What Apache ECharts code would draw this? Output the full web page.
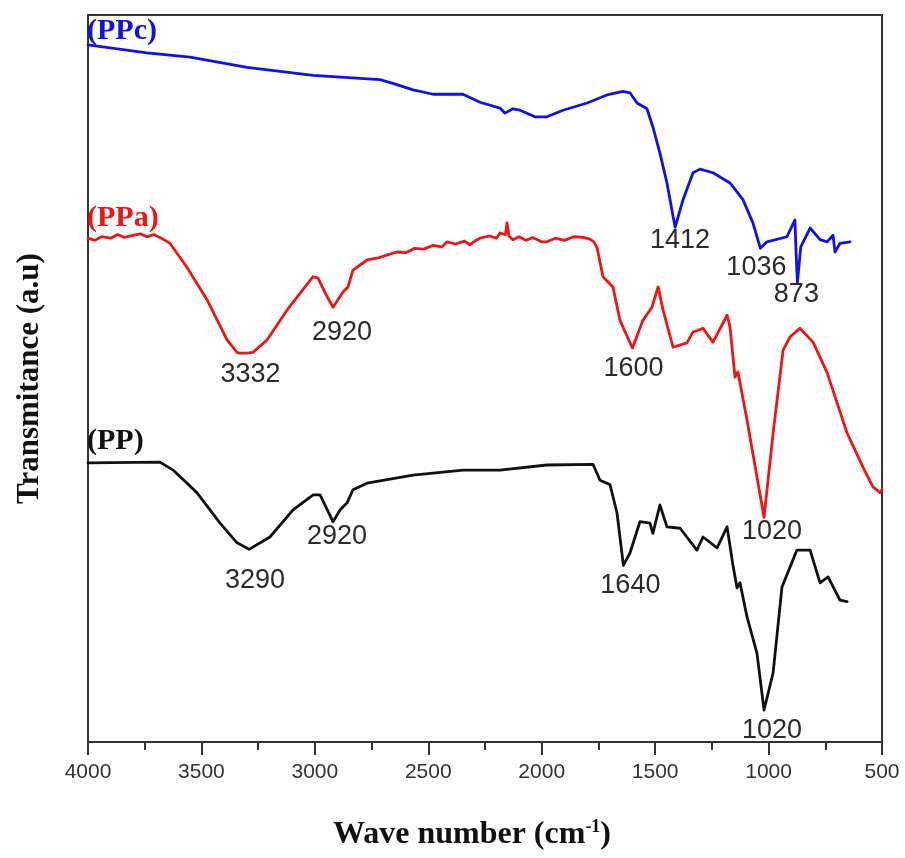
<!DOCTYPE html>
<html>
<head>
<meta charset="utf-8">
<title>FTIR spectra</title>
<script src="https://cdn.jsdelivr.net/npm/echarts@6/dist/echarts.min.js"></script>
<style>
  html, body { margin: 0; padding: 0; background: #ffffff; }
  #chart { width: 905px; height: 858px; }
</style>
</head>
<body>
<div id="chart"></div>
<script>
// FTIR spectra, [wavenumber (cm-1), transmittance (a.u.)], curves stacked with offsets
const ppcSpectrum = [
  [4000, 95.9], [3740, 94.8], [3550, 94.2], [3299, 92.8], [3008, 91.7], [2713, 91.1],
  [2656, 90.6], [2567, 89.7], [2479, 89.1], [2347, 89.1], [2272, 88.0], [2184, 87.2],
  [2162, 86.5], [2127, 87.1], [2096, 86.9], [2030, 86.0], [1977, 86.0], [1906, 86.9],
  [1800, 87.9], [1712, 89.0], [1642, 89.5], [1611, 89.3], [1580, 87.9], [1536, 87.1],
  [1510, 84.6], [1479, 81.0], [1448, 76.9], [1412, 70.8], [1377, 74.6], [1333, 78.3],
  [1302, 78.8], [1245, 78.3], [1170, 76.9], [1113, 74.6], [1069, 71.4], [1036, 67.9],
  [1007, 68.8], [919, 69.5], [884, 71.8], [878, 66.7], [873, 63.2], [858, 68.1],
  [817, 70.7], [773, 69.1], [742, 68.8], [716, 69.7], [707, 67.4], [685, 68.6], [641, 68.8]
];

const ppaSpectrum = [
  [4000, 69.3], [3970, 69.0], [3940, 69.5], [3900, 69.3], [3870, 69.8], [3840, 69.4],
  [3802, 69.7], [3770, 69.9], [3740, 69.5], [3710, 69.8], [3683, 69.4], [3660, 69.0],
  [3639, 68.6], [3564, 65.3], [3475, 60.8], [3387, 55.3], [3343, 53.6], [3332, 53.5],
  [3300, 53.5], [3273, 53.6], [3211, 55.3], [3123, 59.4], [3008, 64.0], [2986, 63.8],
  [2950, 61.5], [2920, 59.8], [2876, 61.9], [2854, 62.6], [2832, 64.9], [2770, 66.3],
  [2720, 66.6], [2680, 67.0], [2638, 67.4], [2600, 67.3], [2560, 67.9], [2520, 67.8],
  [2480, 68.3], [2440, 68.1], [2417, 68.8], [2380, 68.5], [2340, 68.9], [2316, 68.4],
  [2290, 69.0], [2272, 69.3], [2230, 69.6], [2200, 69.3], [2184, 70.0], [2160, 69.8],
  [2153, 71.4], [2145, 69.6], [2127, 69.1], [2100, 69.5], [2070, 69.0], [2040, 69.4],
  [2000, 68.8], [1977, 68.8], [1940, 69.3], [1900, 69.0], [1860, 69.5], [1818, 69.4],
  [1790, 69.2], [1770, 68.8], [1756, 68.0], [1730, 64.0], [1686, 62.6], [1655, 58.0],
  [1600, 54.2], [1554, 58.0], [1514, 59.8], [1487, 62.6], [1465, 59.4], [1421, 54.3],
  [1360, 54.9], [1333, 56.4], [1289, 56.9], [1245, 55.0], [1183, 58.7], [1170, 57.1],
  [1148, 50.2], [1135, 50.9], [1095, 44.3], [1020, 30.9], [980, 42.5], [936, 53.9],
  [906, 55.7], [862, 56.9], [804, 55.0], [742, 50.8], [654, 42.5], [584, 37.8],
  [540, 35.1], [509, 34.3], [500, 34.7]
];

const ppSpectrum = [
  [4000, 38.4], [3683, 38.5], [3625, 37.4], [3520, 34.3], [3418, 30.1], [3343, 27.4],
  [3290, 26.5], [3198, 28.2], [3097, 31.9], [3008, 34.0], [2977, 34.0], [2920, 30.3],
  [2889, 31.9], [2858, 32.9], [2832, 34.7], [2770, 35.6], [2567, 36.7], [2347, 37.4],
  [2184, 37.4], [1977, 38.1], [1774, 38.2], [1743, 36.0], [1699, 35.4], [1668, 31.5],
  [1640, 24.3], [1611, 26.0], [1567, 30.3], [1523, 30.1], [1510, 28.7], [1479, 32.6],
  [1448, 29.6], [1390, 29.4], [1316, 26.4], [1289, 28.2], [1227, 26.7], [1183, 29.6],
  [1157, 24.3], [1139, 21.2], [1126, 21.9], [1095, 17.2], [1051, 12.2], [1020, 4.4],
  [980, 9.5], [941, 21.3], [875, 26.4], [817, 26.4], [773, 21.9], [738, 22.7],
  [685, 19.5], [654, 19.3]
];

const sampleNames = ['(PPc)', '(PPa)', '(PP)'];
const ppcPeaks = [1412, 1036, 873];
const ppaPeaks = [3332, 2920, 1600, 1020];
const ppPeaks = [3290, 2920, 1640, 1020];

// label placement (pixel offsets from the marked point)
const peakLabelOffsets = [
  { 1412: [5, 13], 1036: [-4, 19], 873: [-1, 12] },
  { 3332: [11, 21], 2920: [9, 25], 1600: [1, 21], 1020: [8, 14] },
  { 3290: [6, 31], 2920: [4, 15], 1640: [7, 20], 1020: [8, 21] }
];
const nameLabelOffsets = [[-1, -14], [-1, -20], [-1, -22]];
const lineColors = ['#1010ee', '#f01414', '#111111'];

const spectra = [ppcSpectrum, ppaSpectrum, ppSpectrum];
const peaks = [ppcPeaks, ppaPeaks, ppPeaks];

const serifFont = '"Liberation Serif", "Times New Roman", serif';
const sansFont = 'Arial, "Liberation Sans", sans-serif';

function valueAt(data, wn) {
  const p = data.find(d => d[0] === wn);
  return p ? p[1] : null;
}

const series = spectra.map((data, i) => {
  const marks = peaks[i].map(wn => ({
    coord: [wn, valueAt(data, wn)],
    label: {
      formatter: String(wn),
      offset: peakLabelOffsets[i][wn],
      position: 'inside',
      align: 'center',
      verticalAlign: 'middle',
      fontFamily: sansFont,
      fontSize: 27,
      color: '#2b2b2b'
    }
  }));
  marks.push({
    coord: data[0],
    label: {
      formatter: sampleNames[i],
      offset: nameLabelOffsets[i],
      position: 'inside',
      align: 'left',
      verticalAlign: 'middle',
      fontFamily: serifFont,
      fontWeight: 'bold',
      fontSize: 30,
      color: lineColors[i]
    }
  });
  return {
    name: sampleNames[i],
    type: 'line',
    data: data,
    showSymbol: false,
    symbol: 'none',
    smooth: false,
    lineStyle: { color: lineColors[i], width: 2.8, join: 'round', cap: 'round' },
    z: 3 - i,
    markPoint: {
      symbol: 'circle',
      symbolSize: 1,
      itemStyle: { color: 'rgba(0,0,0,0)' },
      silent: true,
      animation: false,
      data: marks
    }
  };
});

const chart = echarts.init(document.getElementById('chart'), null, { renderer: 'canvas' });
chart.setOption({
  animation: false,
  backgroundColor: '#ffffff',
  grid: {
    left: 88, right: 23, top: 15, bottom: 116,
    show: true, borderColor: '#333333', borderWidth: 2, backgroundColor: 'transparent'
  },
  xAxis: {
    type: 'value',
    min: 500,
    max: 4000,
    interval: 500,
    inverse: true,
    name: 'Wave number (cm{sup|-1})',
    nameLocation: 'middle',
    nameGap: 76,
    nameTextStyle: {
      fontFamily: serifFont,
      fontWeight: 'bold',
      fontSize: 32,
      color: '#111111',
      padding: [0, 26, 0, 0],
      rich: {
        sup: {
          fontFamily: serifFont,
          fontWeight: 'bold',
          fontSize: 18,
          color: '#111111',
          padding: [0, 0, 16, 0]
        }
      }
    },
    axisLine: { show: true, onZero: false, lineStyle: { color: '#333333', width: 2 } },
    axisTick: { show: true, inside: false, length: 13, lineStyle: { color: '#333333', width: 2 } },
    minorTick: { show: true, splitNumber: 2, length: 8, lineStyle: { color: '#333333', width: 2 } },
    splitLine: { show: false },
    axisLabel: {
      margin: 20,
      fontFamily: sansFont,
      fontSize: 21,
      color: '#333333',
      formatter: v => String(v)
    }
  },
  yAxis: {
    type: 'value',
    min: 0,
    max: 100,
    name: 'Transmitance (a.u)',
    nameLocation: 'middle',
    nameGap: 43,
    nameTextStyle: {
      fontFamily: serifFont,
      fontWeight: 'bold',
      fontSize: 31,
      color: '#111111'
    },
    axisLine: { show: true, lineStyle: { color: '#333333', width: 2 } },
    axisTick: { show: false },
    axisLabel: { show: false },
    splitLine: { show: false }
  },
  series: series
});
</script>
</body>
</html>
